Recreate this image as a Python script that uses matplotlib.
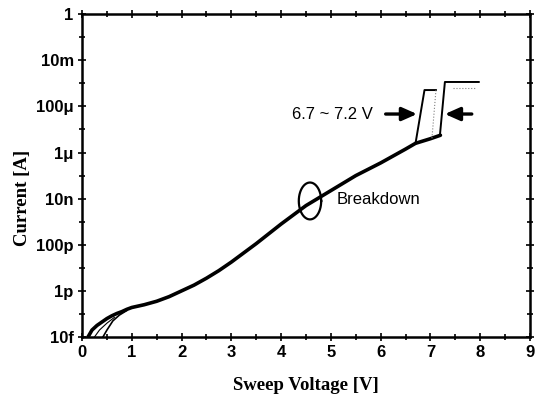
import numpy as np
import matplotlib
matplotlib.use('Agg')
import matplotlib.pyplot as plt

# main I-V sweep (common part), log10 of current
V_MAIN = [0.12, 0.2, 0.3, 0.4, 0.5, 0.6, 0.7, 0.8, 0.9, 1.0, 1.25, 1.5,
          1.75, 2.0, 2.25, 2.5, 2.75, 3.0, 3.5, 4.0, 4.5, 5.0, 5.5, 6.0,
          6.5, 6.7, 7.0, 7.2]
LOGI_MAIN = [-14.0, -13.7, -13.5, -13.35, -13.2, -13.08, -12.98, -12.9,
             -12.8, -12.72, -12.6, -12.45, -12.25, -12.0, -11.75, -11.45,
             -11.12, -10.75, -9.95, -9.1, -8.3, -7.65, -7.0, -6.45,
             -5.85, -5.6, -5.4, -5.25]

# low-voltage start of the other sweeps
V_LOW = [0.42, 0.5, 0.62, 0.75, 0.9]
LOGI_LOW = [-14.0, -13.7, -13.3, -13.05, -12.85]
V_LOW2 = [0.25, 0.35, 0.5, 0.65]
LOGI_LOW2 = [-14.0, -13.7, -13.4, -13.15]

# breakdown jumps
V_BD1 = [6.7, 6.88, 7.11]
LOGI_BD1 = [-5.6, -3.29, -3.29]
V_BD2 = [7.03, 7.11]
LOGI_BD2 = [-5.38, -3.3]
V_BD3 = [7.19, 7.29, 7.97]
LOGI_BD3 = [-5.25, -2.94, -2.94]
V_BD3B = [7.45, 7.9]
LOGI_BD3B = [-3.2, -3.2]

YTICK_EXP = [0, -2, -4, -6, -8, -10, -12, -14]
YTICK_LBL = ['1', '10m', '100\u03bc', '1\u03bc', '10n', '100p', '1p', '10f']

fig = plt.figure(figsize=(5.45, 4.01), dpi=100)
ax = fig.add_axes([0.1505, 0.1596, 0.822, 0.805])


def pw(v, l):
    return np.array(v), 10.0 ** np.array(l)


ax.plot(*pw(V_MAIN, LOGI_MAIN), color='black', lw=2.6, solid_capstyle='round')
ax.plot(*pw(V_LOW, LOGI_LOW), color='black', lw=1.2)
ax.plot(*pw(V_LOW2, LOGI_LOW2), color='black', lw=0.8)
ax.plot(*pw(V_BD1, LOGI_BD1), color='black', lw=1.4)
ax.plot(*pw(V_BD2, LOGI_BD2), color='gray', lw=0.8, ls=':')
ax.plot(*pw(V_BD3, LOGI_BD3), color='black', lw=1.4)
ax.plot(*pw(V_BD3B, LOGI_BD3B), color='gray', lw=0.8, ls=':')

# ellipse marking breakdown region
t = np.linspace(0, 2 * np.pi, 200)
ax.plot(4.58 + 0.225 * np.cos(t), 10.0 ** (-8.1 + 0.8 * np.sin(t)),
        color='black', lw=1.6)
ax.text(5.12, 10.0 ** -8.05, 'Breakdown', fontsize=12, va='center',
        ha='left', family='Liberation Sans')

ax.text(4.22, 10.0 ** -4.33, '6.7 ~ 7.2 V', fontsize=12, va='center',
        ha='left', family='Liberation Sans')
arrow = dict(arrowstyle='-|>,head_width=0.4,head_length=0.9',
             color='black', lw=2.4, shrinkA=0, shrinkB=0)
ax.annotate('', xy=(6.73, 10.0 ** -4.33), xytext=(6.1, 10.0 ** -4.33),
            arrowprops=arrow)
ax.annotate('', xy=(7.29, 10.0 ** -4.33), xytext=(7.83, 10.0 ** -4.33),
            arrowprops=arrow)

ax.set_yscale('log')
ax.set_xlim(0, 9)
ax.set_ylim(1e-14, 1)
ax.set_xticks(range(10))
ax.set_xticks(np.arange(0.5, 9, 1.0), minor=True)
ax.set_yticks([10.0 ** e for e in YTICK_EXP])
ax.set_yticklabels(YTICK_LBL)
ax.set_yticks([10.0 ** e for e in range(-13, 0, 2)], minor=True)
ax.yaxis.set_minor_formatter(matplotlib.ticker.NullFormatter())

for lbl in ax.get_xticklabels() + ax.get_yticklabels():
    lbl.set_family('Liberation Sans')
    lbl.set_fontweight('bold')
    lbl.set_fontsize(12)

ax.tick_params(which='both', top=True, right=True, direction='inout',
               width=1.2)
ax.tick_params(which='major', length=6, pad=3)
ax.tick_params(which='minor', length=4)
for s in ax.spines.values():
    s.set_linewidth(1.8)

ax.set_xlabel('Sweep Voltage [V]', family='Liberation Serif',
              fontweight='bold', fontsize=13.5, labelpad=12)
ax.set_ylabel('Current [A]', family='Liberation Serif',
              fontweight='bold', fontsize=13.5, labelpad=4)
ax.yaxis.set_label_coords(-0.115, 0.43)

fig.savefig('out.png', dpi=100)
